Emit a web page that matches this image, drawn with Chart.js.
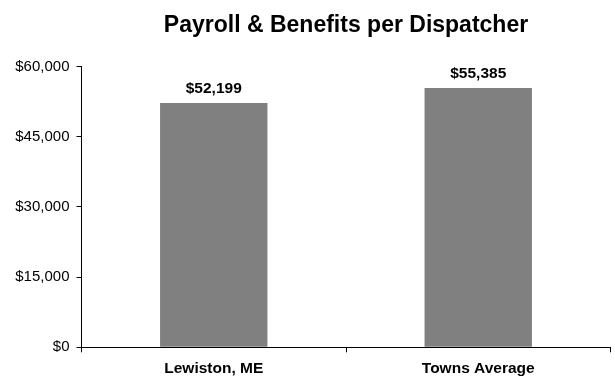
<!DOCTYPE html>
<html>
<head>
<meta charset="utf-8">
<script src="https://cdn.jsdelivr.net/npm/chart.js@4"></script>
<style>
  html, body { margin: 0; padding: 0; background: #fff; }
  #wrap { width: 615px; height: 379px; }
</style>
</head>
<body>
<div id="wrap"><canvas id="payrollChart" width="615" height="379"></canvas></div>
<script>
// chart data
const chartTitle = 'Payroll & Benefits per Dispatcher';
const categories = ['Lewiston, ME', 'Towns Average'];
const payroll = [52199, 55385];
const yTicks = [0, 15000, 30000, 45000, 60000];

const FONT = '"Liberation Sans", Arial, sans-serif';
const money = (v) => '$' + v.toLocaleString('en-US');

// title centred over the plot area, plus value labels above each bar
const textLayer = {
  id: 'textLayer',
  afterDatasetsDraw(chart) {
    const ctx = chart.ctx;
    const area = chart.chartArea;
    ctx.save();
    ctx.fillStyle = '#000';
    ctx.textAlign = 'center';
    ctx.textBaseline = 'alphabetic';

    ctx.font = 'bold 23px ' + FONT;
    ctx.fillText(chartTitle, (area.left + area.right) / 2, 32);

    ctx.font = 'bold 15.5px ' + FONT;
    chart.getDatasetMeta(0).data.forEach((bar, i) => {
      ctx.fillText(money(payroll[i]), bar.x, bar.y - 10.5);
    });
    ctx.restore();
  }
};

new Chart(document.getElementById('payrollChart'), {
  type: 'bar',
  data: {
    labels: categories,
    datasets: [{
      data: payroll,
      backgroundColor: '#808080',
      borderWidth: 0,
      barPercentage: 0.406,
      categoryPercentage: 1
    }]
  },
  options: {
    responsive: false,
    animation: false,
    layout: { padding: { top: 66.5, right: 4.5, bottom: 0, left: 0 } },
    plugins: {
      legend: { display: false },
      tooltip: { enabled: false },
      title: { display: false }
    },
    scales: {
      x: {
        grid: {
          offset: true,
          drawOnChartArea: false,
          tickLength: 5,
          color: '#000'
        },
        border: { color: '#000', width: 1 },
        ticks: {
          color: '#000',
          padding: 7,
          font: { family: FONT, size: 15.5, weight: 'bold' }
        },
        afterFit(scale) { scale.height = 31.7; }
      },
      y: {
        min: 0,
        max: 60000,
        afterBuildTicks(scale) {
          scale.ticks = yTicks.map(v => ({ value: v }));
        },
        grid: {
          drawOnChartArea: false,
          tickLength: 5,
          color: '#000'
        },
        border: { color: '#000', width: 1 },
        ticks: {
          color: '#000',
          padding: 7,
          font: { family: FONT, size: 15 },
          callback: (v) => money(v)
        },
        afterFit(scale) { scale.width = 81.5; }
      }
    }
  },
  plugins: [textLayer]
});
</script>
</body>
</html>
